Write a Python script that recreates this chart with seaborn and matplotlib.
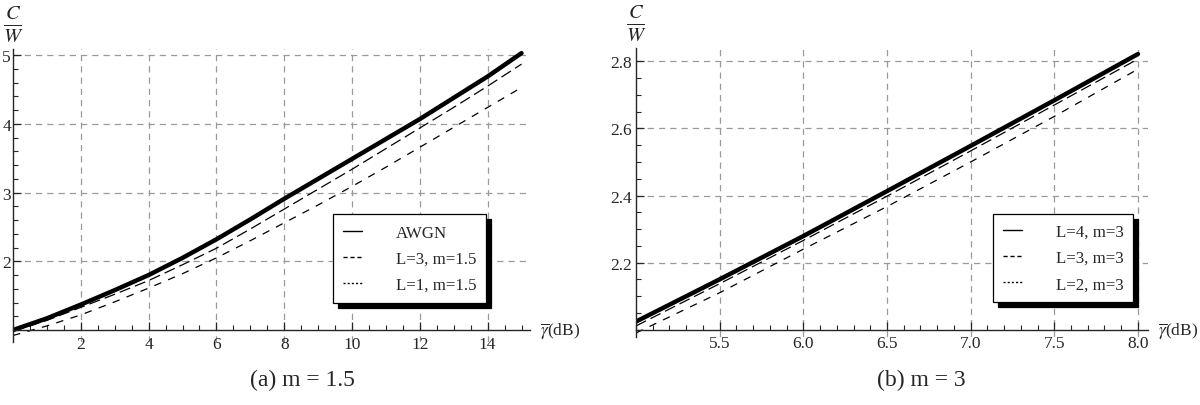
import numpy as np
import pandas as pd
import matplotlib
matplotlib.use("Agg")
import matplotlib.pyplot as plt
from matplotlib.lines import Line2D
from matplotlib.ticker import MultipleLocator
import seaborn as sns

# panel (a): m = 1.5, x in dB
snr_a = [0, 1, 2, 3, 4, 5, 6, 7, 8, 9, 10, 11, 12, 13, 14, 15]
awgn_a = [1.00, 1.17, 1.37, 1.58, 1.80, 2.05, 2.32, 2.61, 2.91, 3.20, 3.49, 3.78, 4.07, 4.38, 4.69, 5.03]
l3_a = [0.98, 1.14, 1.33, 1.52, 1.72, 1.95, 2.19, 2.47, 2.76, 3.05, 3.34, 3.64, 3.94, 4.24, 4.55, 4.87]
l1_a = [0.92, 1.06, 1.22, 1.41, 1.61, 1.82, 2.05, 2.30, 2.56, 2.82, 3.09, 3.37, 3.66, 3.95, 4.24, 4.53]
labels_a = ["AWGN", "L=3, m=1.5", "L=1, m=1.5"]

# panel (b): m = 3
snr_b = [5.0, 5.5, 6.0, 6.5, 7.0, 7.5, 8.0]
l4_b = [2.024, 2.150, 2.279, 2.413, 2.548, 2.684, 2.822]
l3_b = [2.011, 2.137, 2.266, 2.398, 2.533, 2.670, 2.807]
l2_b = [1.990, 2.110, 2.240, 2.367, 2.500, 2.636, 2.777]
labels_b = ["L=4, m=3", "L=3, m=3", "L=2, m=3"]

sns.set_style("ticks")
plt.rcParams["font.family"] = ["Liberation Serif", "DejaVu Serif"]
plt.rcParams["mathtext.fontset"] = "stix"

styles = [dict(lw=3.2, ls="-"),
          dict(lw=0.9, ls=(0, (9, 4))),
          dict(lw=0.9, ls=(0, (6, 6)))]
leg_styles = [dict(lw=1.0, ls="-"),
              dict(lw=1.0, ls=(0, (3, 2))),
              dict(lw=1.0, ls=(0, (1.5, 1.5)))]

fig = plt.figure(figsize=(12, 4.06), dpi=100)
ax1 = fig.add_axes([13 / 1200, 1 - 342.7 / 406, 517 / 1200, 292.7 / 406])
ax2 = fig.add_axes([636 / 1200, 1 - 338 / 406, 512 / 1200, 289 / 406])


def draw_panel(ax, x, series, labels, xlim, ylim, base, xmin, ymin,
               xfmt, yfmt, xticks, yticks, leg_anchor, ypad):
    for y, st in zip(series, styles):
        sns.lineplot(x=x, y=y, ax=ax, color="black", linewidth=st["lw"],
                     linestyle=st["ls"], legend=False)
    ax.set_xlim(*xlim)
    ax.set_ylim(*ylim)
    ax.spines["top"].set_visible(False)
    ax.spines["right"].set_visible(False)
    ax.spines["bottom"].set_position(("data", base))
    ax.spines["bottom"].set_linewidth(1.0)
    ax.spines["left"].set_linewidth(1.0)
    ax.set_xticks(xticks)
    ax.set_xticklabels([xfmt.format(t) for t in xticks])
    ax.set_yticks(yticks)
    ax.set_yticklabels([yfmt.format(t) for t in yticks])
    ax.xaxis.set_minor_locator(MultipleLocator(xmin))
    ax.yaxis.set_minor_locator(MultipleLocator(ymin))
    ax.tick_params(which="major", direction="in", length=6, width=0.9,
                   labelsize=12.5, pad=4)
    ax.tick_params(axis="y", which="major", pad=ypad)
    ax.tick_params(which="minor", direction="in", length=3.5, width=0.8)
    ax.grid(True, which="major", color="#9a9a9a", linestyle=(0, (5, 4)), lw=0.9)
    ax.set_xlabel("")
    ax.set_ylabel("")
    ax.text(0, 1.02, r"$\frac{C}{W}$", transform=ax.transAxes,
            ha="center", va="bottom", fontsize=21)
    ax.annotate(r"$\overline{\gamma}$(dB)", xy=(1, base), xycoords=("axes fraction", "data"),
                xytext=(7, 0), textcoords="offset points", ha="left", va="center",
                fontsize=12.5)
    handles = [Line2D([], [], color="black", **st) for st in leg_styles]
    leg = ax.legend(handles, labels, loc="lower left", bbox_to_anchor=leg_anchor,
                    fontsize=12.2, frameon=True, fancybox=False, handlelength=1.1,
                    handletextpad=2.0, labelspacing=0.6, borderpad=0.6,
                    borderaxespad=0,
                    shadow={"ox": 3.5, "oy": -3.5, "color": "black", "alpha": 1})
    leg.get_frame().set_edgecolor("black")
    leg.get_frame().set_linewidth(0.9)
    leg.get_frame().set_facecolor("white")
    leg.get_frame().set_alpha(1)


draw_panel(ax1, snr_a, [awgn_a, l3_a, l1_a], labels_a, (0, 15.25), (0.83, 5.09), 1,
           0.5, 0.2, "{:g}", "{:g}", [2, 4, 6, 8, 10, 12, 14], [2, 3, 4, 5],
           (0.619, 0.132), 1.5)
draw_panel(ax2, snr_b, [l4_b, l3_b, l2_b], labels_b, (5, 8.06), (1.978, 2.84), 2,
           0.1, 0.05, "{:.1f}", "{:.1f}", [5.5, 6.0, 6.5, 7.0, 7.5, 8.0],
           [2.2, 2.4, 2.6, 2.8], (0.697, 0.120), 3)

fig.text(302 / 1200, 1 - 380 / 406, "(a) m = 1.5", ha="center", va="center", fontsize=17)
fig.text(921 / 1200, 1 - 380 / 406, "(b) m = 3", ha="center", va="center", fontsize=17)

fig.savefig("out.png", dpi=100)
